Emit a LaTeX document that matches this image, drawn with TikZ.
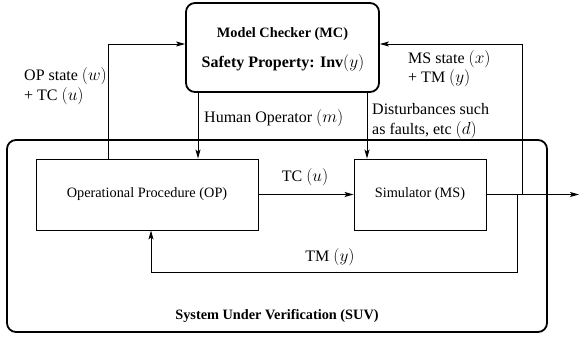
\documentclass[tikz,border=0pt]{standalone}
\usepackage{fontspec}
\setmainfont{Liberation Serif}
\usetikzlibrary{arrows.meta}
\begin{document}
\begin{tikzpicture}[x=1pt,y=-1pt,
  thinline/.style={line width=0.9pt},
  arr/.style={thinline,-{Stealth[length=9pt,width=5pt,inset=2pt]}},
  bigbox/.style={draw,line width=1.8pt,rounded corners=9pt,inner sep=0pt},
  blockbox/.style={draw,line width=0.9pt,inner sep=0pt},
  lbl/.style={font=\fontsize{16}{19.5}\selectfont,inner sep=0pt},
  boxtxt/.style={font=\fontsize{14.3}{17}\selectfont,inner sep=0pt}]
\useasboundingbox (0,0) rectangle (579,340);

% main blocks
\node[bigbox,minimum width=193pt,minimum height=89pt] (mc) at (282.5,47.5) {};
\node[boxtxt,font=\fontsize{14.3}{17}\selectfont\bfseries] (mctitle) at (282.5,34) {Model Checker (MC)};
\node[lbl,font=\fontsize{16}{19.5}\selectfont\bfseries] (mcprop) at (283,63) {Safety Property: Inv$(y)$};

\node[bigbox,minimum width=540pt,minimum height=192pt] (suv) at (277,236) {};
\node[boxtxt,font=\fontsize{14.3}{17}\selectfont\bfseries] (suvlbl) at (277,316) {System Under Verification (SUV)};

\node[blockbox,minimum width=222pt,minimum height=71pt,boxtxt] (op) at (147,194.5) {Operational Procedure (OP)};
\node[blockbox,minimum width=132pt,minimum height=71pt,boxtxt] (ms) at (420,194.5) {Simulator (MS)};

% routing points
\coordinate (opx) at (108,44);
\coordinate (hox) at (198,0);
\coordinate (dsx) at (367,0);
\coordinate (msx) at (522,44);
\coordinate (tmr) at (517,272);
\coordinate (tml) at (151,272);
\coordinate (out) at (579,194.5);

% connectors
\draw[arr] (op.north -| opx) |- (mc.west |- opx);
\draw[arr] (mc.south -| hox) -- (op.north -| hox);
\draw[arr] (mc.south -| dsx) -- (ms.north -| dsx);
\draw[arr] (op.east) -- (ms.west);
\draw[arr] (ms.east) -- (out);
\draw[arr] (ms.east -| msx) |- (mc.east |- msx);
\draw[arr] (ms.east -| tmr) -- (tmr) -- (tml) -- (op.south -| tml);

% labels
\node[lbl,anchor=west,align=left] (lopst) at (24,86) {OP state $(w)$\\+ TC $(u)$};
\node[lbl,anchor=west,align=left] (lmsst) at (408,68.5) {MS state $(x)$\\+ TM $(y)$};
\node[lbl,anchor=west] (lho) at (204,118) {Human Operator $(m)$};
\node[lbl,anchor=west,align=left] (ldist) at (372,121) {Disturbances such\\as faults, etc $(d)$};
\node[lbl] (ltc) at (305,177) {TC $(u)$};
\node[lbl] (ltm) at (330,257) {TM $(y)$};
\end{tikzpicture}
\end{document}
